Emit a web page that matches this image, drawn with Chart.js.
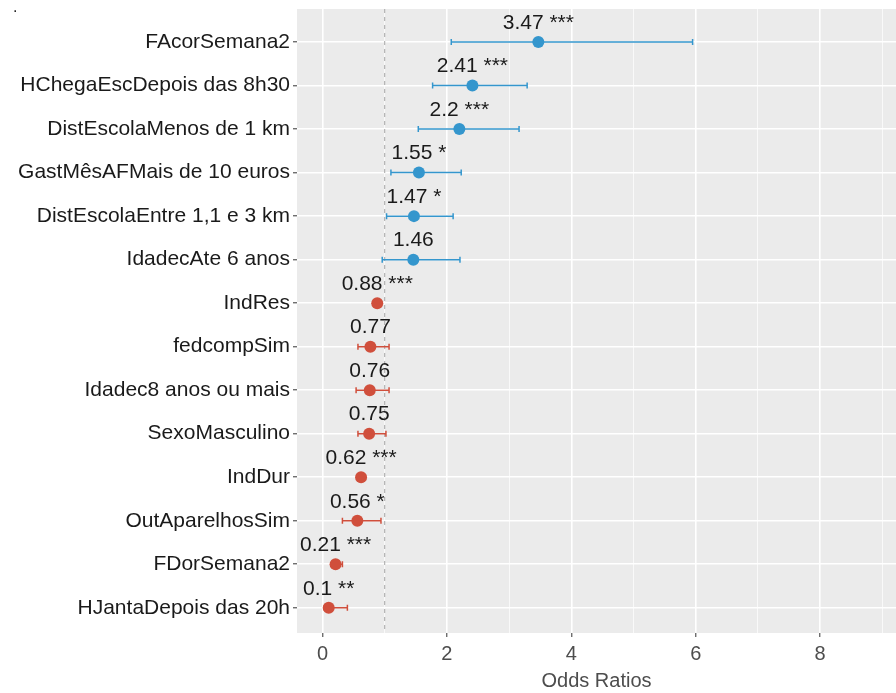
<!DOCTYPE html>
<html>
<head>
<meta charset="utf-8">
<script src="https://cdn.jsdelivr.net/npm/chart.js@4/dist/chart.umd.min.js"></script>
<style>
  html, body { margin: 0; padding: 0; background: #ffffff; }
  #wrap { width: 896px; height: 693px; position: relative; }
</style>
</head>
<body>
<div id="wrap"><canvas id="c" width="896" height="693"></canvas></div>
<script>
// Logistic regression results: odds ratios with 95% confidence intervals
const terms = [
  'FAcorSemana2',
  'HChegaEscDepois das 8h30',
  'DistEscolaMenos de 1 km',
  'GastMêsAFMais de 10 euros',
  'DistEscolaEntre 1,1 e 3 km',
  'IdadecAte 6 anos',
  'IndRes',
  'fedcompSim',
  'Idadec8 anos ou mais',
  'SexoMasculino',
  'IndDur',
  'OutAparelhosSim',
  'FDorSemana2',
  'HJantaDepois das 20h'
];
const oddsRatios = [3.47, 2.41, 2.2, 1.55, 1.47, 1.46, 0.88, 0.77, 0.76, 0.75, 0.62, 0.56, 0.21, 0.1];
const ciLower   = [2.07, 1.77, 1.54, 1.10, 1.03, 0.96, 0.85, 0.57, 0.54, 0.57, 0.56, 0.32, 0.15, 0.03];
const ciUpper   = [5.95, 3.29, 3.16, 2.23, 2.10, 2.21, 0.91, 1.07, 1.07, 1.02, 0.69, 0.94, 0.32, 0.40];
const stars     = ['***', '***', '***', '*', '*', '', '***', '', '', '', '***', '*', '***', '**'];
const xTicks    = [0, 2, 4, 6, 8];

const BLUE = '#3496cd';
const RED = '#d04f3c';
const FONT = '"Liberation Sans", Arial, sans-serif';
const colorFor = v => (v > 1 ? BLUE : RED);

const points = oddsRatios.map((v, i) => ({ x: v, y: i }));

const panelPlugin = {
  id: 'panel',
  beforeDraw(chart) {
    const { ctx, chartArea: a } = chart;
    ctx.save();
    ctx.fillStyle = '#ebebeb';
    ctx.fillRect(a.left, a.top, a.right - a.left, a.bottom - a.top);
    ctx.fillStyle = '#222';
    ctx.font = '16px ' + FONT;
    ctx.fillText('.', 13, 12);
    ctx.restore();
  },
  beforeDatasetsDraw(chart) {
    const { ctx, chartArea: a, scales } = chart;
    const xs = scales.x, ys = scales.y;
    ctx.save();
    // reference line at OR = 1
    ctx.strokeStyle = '#a6a6a6';
    ctx.lineWidth = 1;
    ctx.setLineDash([4, 4]);
    const x1 = xs.getPixelForValue(1);
    ctx.beginPath();
    ctx.moveTo(x1, a.top);
    ctx.lineTo(x1, a.bottom);
    ctx.stroke();
    ctx.setLineDash([]);
    // confidence interval whiskers
    ctx.lineWidth = 1.5;
    oddsRatios.forEach((v, i) => {
      const y = ys.getPixelForValue(i);
      const l = xs.getPixelForValue(ciLower[i]);
      const r = xs.getPixelForValue(ciUpper[i]);
      ctx.strokeStyle = colorFor(v);
      ctx.beginPath();
      ctx.moveTo(l, y); ctx.lineTo(r, y);
      ctx.moveTo(l, y - 3); ctx.lineTo(l, y + 3);
      ctx.moveTo(r, y - 3); ctx.lineTo(r, y + 3);
      ctx.stroke();
    });
    ctx.restore();
  },
  afterDatasetsDraw(chart) {
    const { ctx, scales } = chart;
    ctx.save();
    ctx.fillStyle = '#1a1a1a';
    ctx.font = '21px ' + FONT;
    ctx.textAlign = 'center';
    ctx.textBaseline = 'middle';
    oddsRatios.forEach((v, i) => {
      const x = scales.x.getPixelForValue(v);
      const y = scales.y.getPixelForValue(i) - 19;
      const txt = stars[i] ? v + ' ' + stars[i] : String(v);
      ctx.fillText(txt, x, y);
    });
    ctx.restore();
  }
};

new Chart(document.getElementById('c'), {
  type: 'scatter',
  data: {
    datasets: [{
      data: points,
      pointRadius: 6,
      pointHoverRadius: 6,
      pointBorderWidth: 0,
      pointBackgroundColor: oddsRatios.map(colorFor),
      pointBorderColor: oddsRatios.map(colorFor)
    }]
  },
  options: {
    responsive: false,
    animation: false,
    events: [],
    layout: { autoPadding: false, padding: { top: 9, left: 0, right: 0, bottom: 0 } },
    plugins: { legend: { display: false }, tooltip: { enabled: false } },
    scales: {
      x: {
        type: 'linear',
        min: -0.41,
        max: 9.22,
        afterBuildTicks(scale) {
          scale.ticks = [0, 1, 2, 3, 4, 5, 6, 7, 8, 9].map(v => ({ value: v }));
        },
        afterFit(scale) {
          scale.height = 60;
          scale.paddingLeft = 0;
          scale.paddingRight = 0;
        },
        border: { display: false },
        grid: {
          color: '#ffffff',
          lineWidth: c => (xTicks.includes(c.tick.value) ? 1.6 : 0.7),
          drawTicks: true,
          tickLength: 4,
          tickColor: c => (xTicks.includes(c.tick.value) ? '#333333' : 'rgba(0,0,0,0)'),
          tickWidth: 1
        },
        ticks: {
          autoSkip: false,
          maxRotation: 0,
          padding: 5,
          color: '#4d4d4d',
          font: { size: 20, family: FONT },
          callback: v => (xTicks.includes(v) ? String(v) : '')
        },
        title: {
          display: true,
          text: 'Odds Ratios',
          color: '#4d4d4d',
          font: { size: 20, family: FONT },
          padding: { top: 0, bottom: 0 }
        }
      },
      y: {
        type: 'linear',
        reverse: true,
        min: -0.76,
        max: 13.58,
        afterBuildTicks(scale) {
          scale.ticks = terms.map((t, i) => ({ value: i }));
        },
        afterFit(scale) {
          scale.width = 297;
          scale.paddingTop = 0;
          scale.paddingBottom = 0;
        },
        border: { display: false },
        grid: {
          color: '#ffffff',
          lineWidth: 1.6,
          drawTicks: true,
          tickLength: 4,
          tickColor: '#333333',
          tickWidth: 1
        },
        ticks: {
          autoSkip: false,
          padding: 3,
          color: '#1a1a1a',
          font: { size: 21, family: FONT },
          callback: v => terms[v]
        }
      }
    }
  },
  plugins: [panelPlugin]
});
</script>
</body>
</html>
